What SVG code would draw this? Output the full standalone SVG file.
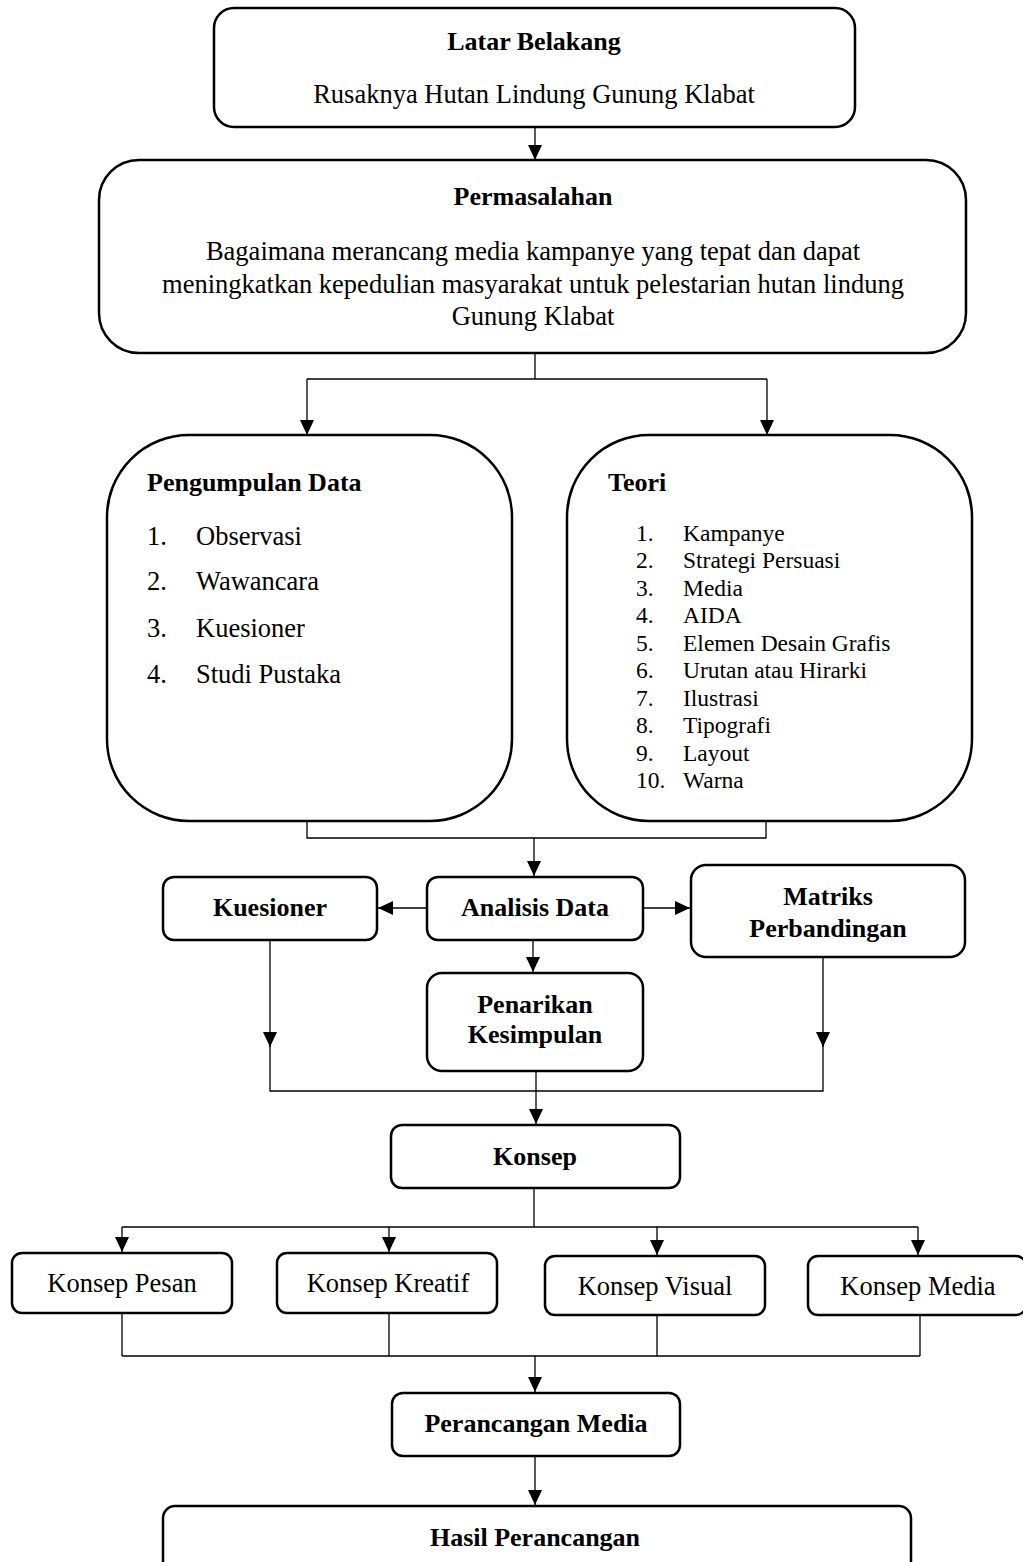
<svg xmlns="http://www.w3.org/2000/svg" width="1023" height="1562" viewBox="0 0 1023 1562">
<style>
.box{fill:#fff;stroke:#000;stroke-width:2.5}
.ln{fill:none;stroke:#000;stroke-width:1.3}
.b{font-family:"Liberation Serif","Times New Roman",serif;font-weight:bold;font-size:26px;fill:#000}
.r{font-family:"Liberation Serif","Times New Roman",serif;font-size:26.5px;fill:#000}
.s{font-family:"Liberation Serif","Times New Roman",serif;font-size:23.5px;fill:#000}
.c{text-anchor:middle}
</style>
<defs>
<marker id="ah" viewBox="0 0 15 14" refX="15" refY="7" markerWidth="15" markerHeight="14" markerUnits="userSpaceOnUse" orient="auto">
<path d="M0,0 L15,7 L0,14 Z" fill="#000"/>
</marker>
</defs>
<rect width="1023" height="1562" fill="#fff"/>
<g id="connectors">
<line class="ln" x1="535" y1="127" x2="535" y2="160" marker-end="url(#ah)"/>
<polyline class="ln" points="535,353 535,379"/>
<polyline class="ln" points="307,379 767,379"/>
<line class="ln" x1="307" y1="379" x2="307" y2="435" marker-end="url(#ah)"/>
<line class="ln" x1="767" y1="379" x2="767" y2="435" marker-end="url(#ah)"/>
<polyline class="ln" points="307,821 307,838 766,838 766,821"/>
<line class="ln" x1="534" y1="838" x2="534" y2="876" marker-end="url(#ah)"/>
<line class="ln" x1="427" y1="908" x2="378" y2="908" marker-end="url(#ah)"/>
<line class="ln" x1="643" y1="908" x2="690" y2="908" marker-end="url(#ah)"/>
<line class="ln" x1="533" y1="940" x2="533" y2="972" marker-end="url(#ah)"/>
<line class="ln" x1="270" y1="940" x2="270" y2="1047" marker-end="url(#ah)"/>
<line class="ln" x1="823" y1="957" x2="823" y2="1047" marker-end="url(#ah)"/>
<polyline class="ln" points="270,1045 270,1091 823,1091 823,1045"/>
<line class="ln" x1="536" y1="1071" x2="536" y2="1124" marker-end="url(#ah)"/>
<polyline class="ln" points="534,1188 534,1227"/>
<polyline class="ln" points="122,1227 918,1227"/>
<line class="ln" x1="122" y1="1227" x2="122" y2="1252" marker-end="url(#ah)"/>
<line class="ln" x1="389" y1="1227" x2="389" y2="1252" marker-end="url(#ah)"/>
<line class="ln" x1="657" y1="1227" x2="657" y2="1255" marker-end="url(#ah)"/>
<line class="ln" x1="918" y1="1227" x2="918" y2="1255" marker-end="url(#ah)"/>
<polyline class="ln" points="122,1313 122,1356"/>
<polyline class="ln" points="389,1313 389,1356"/>
<polyline class="ln" points="657,1315 657,1356"/>
<polyline class="ln" points="920,1315 920,1356"/>
<polyline class="ln" points="122,1356 920,1356"/>
<line class="ln" x1="535" y1="1356" x2="535" y2="1392" marker-end="url(#ah)"/>
<line class="ln" x1="535" y1="1456" x2="535" y2="1505" marker-end="url(#ah)"/>
</g>
<g id="latar-belakang">
<rect class="box" x="214" y="8" width="641" height="119" rx="20"/>
<text class="b c" x="534" y="50">Latar Belakang</text>
<text class="r c" x="534" y="103">Rusaknya Hutan Lindung Gunung Klabat</text>
</g>
<g id="permasalahan">
<rect class="box" x="99" y="160" width="867" height="193" rx="40"/>
<text class="b c" x="533" y="205">Permasalahan</text>
<text class="r c" x="533" y="260">Bagaimana merancang media kampanye yang tepat dan dapat</text>
<text class="r c" x="533" y="293">meningkatkan kepedulian masyarakat untuk pelestarian hutan lindung</text>
<text class="r c" x="533" y="325">Gunung Klabat</text>
</g>
<g id="pengumpulan-data">
<rect class="box" x="107" y="435" width="405" height="386" rx="82"/>
<text class="b" x="147" y="491">Pengumpulan Data</text>
<text class="r" x="147" y="545">1.</text><text class="r" x="196" y="545">Observasi</text>
<text class="r" x="147" y="590">2.</text><text class="r" x="196" y="590">Wawancara</text>
<text class="r" x="147" y="637">3.</text><text class="r" x="196" y="637">Kuesioner</text>
<text class="r" x="147" y="683">4.</text><text class="r" x="196" y="683">Studi Pustaka</text>
</g>
<g id="teori">
<rect class="box" x="567" y="435" width="405" height="386" rx="82"/>
<text class="b" x="608" y="491">Teori</text>
<text class="s" x="636" y="541">1.</text><text class="s" x="683" y="541">Kampanye</text>
<text class="s" x="636" y="568">2.</text><text class="s" x="683" y="568">Strategi Persuasi</text>
<text class="s" x="636" y="596">3.</text><text class="s" x="683" y="596">Media</text>
<text class="s" x="636" y="623">4.</text><text class="s" x="683" y="623">AIDA</text>
<text class="s" x="636" y="651">5.</text><text class="s" x="683" y="651">Elemen Desain Grafis</text>
<text class="s" x="636" y="678">6.</text><text class="s" x="683" y="678">Urutan atau Hirarki</text>
<text class="s" x="636" y="706">7.</text><text class="s" x="683" y="706">Ilustrasi</text>
<text class="s" x="636" y="733">8.</text><text class="s" x="683" y="733">Tipografi</text>
<text class="s" x="636" y="761">9.</text><text class="s" x="683" y="761">Layout</text>
<text class="s" x="636" y="788">10.</text><text class="s" x="683" y="788">Warna</text>
</g>
<g id="kuesioner">
<rect class="box" x="163" y="877" width="214" height="63" rx="11"/>
<text class="b c" x="270" y="916">Kuesioner</text>
</g>
<g id="analisis-data">
<rect class="box" x="427" y="877" width="216" height="63" rx="11"/>
<text class="b c" x="535" y="916">Analisis Data</text>
</g>
<g id="matriks-perbandingan">
<rect class="box" x="691" y="865" width="274" height="92" rx="15"/>
<text class="b c" x="828" y="905">Matriks</text>
<text class="b c" x="828" y="937">Perbandingan</text>
</g>
<g id="penarikan-kesimpulan">
<rect class="box" x="427" y="973" width="216" height="98" rx="15"/>
<text class="b c" x="535" y="1013">Penarikan</text>
<text class="b c" x="535" y="1043">Kesimpulan</text>
</g>
<g id="konsep">
<rect class="box" x="391" y="1125" width="289" height="63" rx="11"/>
<text class="b c" x="535" y="1165">Konsep</text>
</g>
<g id="konsep-pesan">
<rect class="box" x="12" y="1253" width="220" height="60" rx="10"/>
<text class="r c" x="122" y="1292">Konsep Pesan</text>
</g>
<g id="konsep-kreatif">
<rect class="box" x="277" y="1253" width="220" height="60" rx="10"/>
<text class="r c" x="388" y="1292">Konsep Kreatif</text>
</g>
<g id="konsep-visual">
<rect class="box" x="545" y="1256" width="220" height="59" rx="10"/>
<text class="r c" x="655" y="1295">Konsep Visual</text>
</g>
<g id="konsep-media">
<rect class="box" x="808" y="1256" width="218" height="59" rx="10"/>
<text class="r c" x="918" y="1295">Konsep Media</text>
</g>
<g id="perancangan-media">
<rect class="box" x="392" y="1393" width="288" height="63" rx="11"/>
<text class="b c" x="536" y="1432">Perancangan Media</text>
</g>
<g id="hasil-perancangan">
<rect class="box" x="163" y="1506" width="748" height="80" rx="12"/>
<text class="b c" x="535" y="1546">Hasil Perancangan</text>
</g>
</svg>
